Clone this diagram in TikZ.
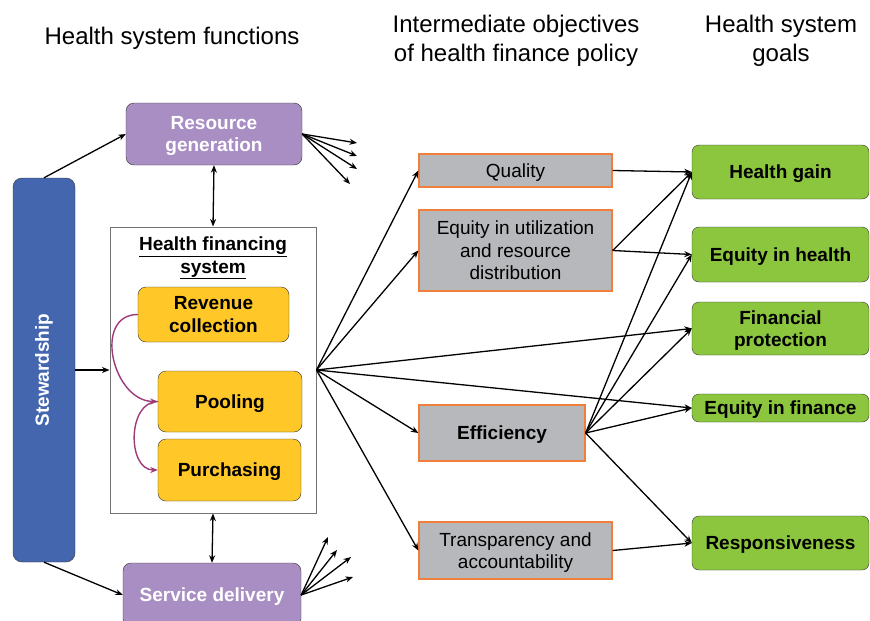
\documentclass[tikz,border=0pt]{standalone}
\usepackage{fontspec}
\setmainfont{Liberation Sans}
\usetikzlibrary{arrows.meta}

\definecolor{funcpurple}{RGB}{169,142,196}
\definecolor{stewblue}{RGB}{68,102,175}
\definecolor{subyellow}{RGB}{255,200,40}
\definecolor{objgray}{RGB}{183,184,187}
\definecolor{objorange}{RGB}{240,126,60}
\definecolor{goalgreen}{RGB}{140,198,63}
\definecolor{curvemag}{RGB}{156,59,120}

\newcommand{\headsize}{\fontsize{24}{29}\selectfont}
\newcommand{\boxsize}{\fontsize{19}{22.5}\selectfont}

\begin{document}
\begin{tikzpicture}[x=1pt,y=-1pt,
  >={Stealth[length=7.5pt,width=6pt]},
  conn/.style={->,line width=1.3pt},
  magarrow/.style={->,line width=1.4pt,draw=curvemag},
  headtext/.style={align=center,font=\headsize},
  funcbox/.style={draw=black!80,fill=funcpurple,rounded corners=8pt,text=white,
    align=center,inner sep=0pt,text depth=0pt,font=\boxsize\bfseries},
  subbox/.style={draw=black!80,fill=subyellow,rounded corners=8pt,
    align=center,inner sep=0pt,text depth=0pt,font=\boxsize\bfseries},
  objbox/.style={draw=objorange,fill=objgray,line width=1.3pt,
    align=center,inner sep=0pt,text depth=0pt,font=\boxsize},
  goalbox/.style={draw=black!80,fill=goalgreen,rounded corners=7pt,
    align=center,inner sep=0pt,text depth=0pt,font=\boxsize\bfseries,minimum width=177pt}]
\useasboundingbox (0,0) rectangle (870,621);

% Column titles
\node[headtext] (functitle) at (172,38) {Health system functions};
\node[headtext] (objtitle) at (516,41) {Intermediate objectives\\of health finance policy};
\node[headtext] (goaltitle) at (781,41) {Health system\\goals};

% Health system functions
\node[funcbox,minimum width=176pt,minimum height=62pt] (resgen) at (214,134) {Resource\\generation};
\node[draw=black!80,fill=stewblue,rounded corners=9pt,minimum width=62pt,minimum height=384pt] (stew) at (44,370) {};
\node[rotate=90,text=white,font=\boxsize\bfseries] (stewtext) at (stew.center) {Stewardship};
\node[draw=black!55,fill=white,line width=1pt,minimum width=206pt,minimum height=286pt] (hfs) at (213,370) {};
\node[align=center,font=\boxsize\bfseries] (hfstitle) at (213,258) {\underline{Health financing}\\\underline{system}};
\node[subbox,minimum width=151pt,minimum height=55pt] (revenue) at (213.5,314.5) {Revenue\\collection};
\node[subbox,minimum width=144pt,minimum height=61pt] (pooling) at (230,401.5) {Pooling};
\node[subbox,minimum width=143pt,minimum height=62pt] (purchasing) at (229.5,470) {Purchasing};
\node[funcbox,minimum width=178pt,minimum height=64pt] (servdel) at (212,595) {Service delivery};

% Intermediate objectives
\node[objbox,minimum width=193pt,minimum height=33pt] (quality) at (515.5,170.5) {Quality};
\node[objbox,minimum width=193pt,minimum height=81pt] (equtil) at (515.5,250.5) {Equity in utilization\\and resource\\distribution};
\node[objbox,minimum width=166pt,minimum height=56pt,font=\boxsize\bfseries] (effic) at (502,433) {Efficiency};
\node[objbox,minimum width=193pt,minimum height=57pt] (transp) at (515.5,550.5) {Transparency and\\accountability};

% Health system goals
\node[goalbox,minimum height=54pt] (hgain) at (780.5,172) {Health gain};
\node[goalbox,minimum height=55pt] (eqhealth) at (780.5,254.5) {Equity in health};
\node[goalbox,minimum height=53pt] (finprot) at (780.5,328.5) {Financial\\protection};
\node[goalbox,minimum height=28pt] (eqfin) at (780.5,408) {Equity in finance};
\node[goalbox,minimum height=54pt] (respons) at (780.5,543) {Responsiveness};

% Stewardship links
\draw[conn] (stew.north) -- (resgen.west);
\draw[conn] (stew.east) -- (hfs.west);
\draw[conn] (stew.south) -- (servdel.west);
\draw[<->,line width=1.3pt] (resgen.south) -- (hfs.north);
\draw[<->,line width=1.3pt] (hfs.south) -- (servdel.north);

% Short fans leaving the outer functions
\foreach \ex/\ey [count=\i] in {357/143,357/156,357/169,350/184}{
  \coordinate (rgend\i) at (\ex,\ey);
  \draw[conn] (resgen.east) -- (rgend\i);
}
\foreach \ex/\ey [count=\i] in {328/537,337/550,351/557,353/577}{
  \coordinate (sdend\i) at (\ex,\ey);
  \draw[conn] (servdel.east) -- (sdend\i);
}

% Flow inside the financing system
\draw[magarrow] (revenue.west) to[out=180,in=180,looseness=1.3] (pooling.west);
\draw[magarrow] (pooling.west) to[out=180,in=180,looseness=1.15] (purchasing.west);

% From the financing system
\foreach \obj in {quality,equtil,effic,transp,finprot,eqfin}
  \draw[conn] (hfs.east) -- (\obj.west);

% From the objectives to the goals
\draw[conn] (quality.east) -- (hgain.west);
\draw[conn] (equtil.east) -- (hgain.west);
\draw[conn] (equtil.east) -- (eqhealth.west);
\foreach \goal in {hgain,eqhealth,finprot,eqfin,respons}
  \draw[conn] (effic.east) -- (\goal.west);
\draw[conn] (transp.east) -- (respons.west);
\end{tikzpicture}
\end{document}
